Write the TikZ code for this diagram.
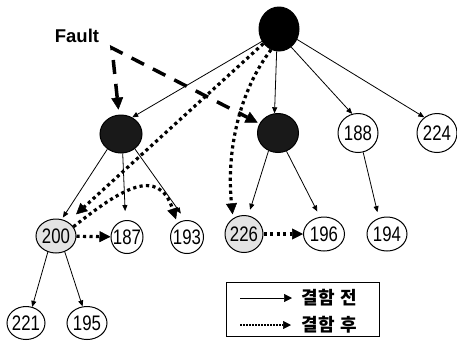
\documentclass[tikz,border=0pt]{standalone}
\usepackage{fontspec}
\setmainfont{Liberation Sans}
\newfontfamily\numf[FakeStretch=0.8]{Liberation Sans}
\newfontfamily\krf[LetterSpace=6]{Noto Sans CJK KR}
\usetikzlibrary{shapes.geometric,arrows.meta}
\begin{document}
\begin{tikzpicture}[x=1pt,y=-1pt,
  nd/.style={ellipse,draw,line width=1pt,inner sep=-6pt,font=\numf\fontsize{21}{21}\selectfont},
  sz/.style n args={2}{minimum width=#1pt,minimum height=#2pt},
  arr/.style={line width=0.8pt,-{Triangle[length=6pt,width=5pt]}},
  dotarr/.style={line width=3.2pt,dash pattern=on 3.2pt off 3.3pt,-{Triangle[length=11pt,width=11pt,line width=0.5pt]}},
  faultarr/.style={line width=3.5pt,dash pattern=on 14pt off 10pt,
    {Triangle[length=12pt,width=12pt,line width=0.5pt]}-{Triangle[length=12pt,width=12pt,line width=0.5pt]}},
  legarr/.style={line width=1pt,-{Triangle[length=8pt,width=8pt,line width=0.5pt]}},
  legdot/.style={line width=2pt,dash pattern=on 1.5pt off 1.5pt,-{Triangle[length=8pt,width=8pt,line width=0.5pt]}},
  kr/.style={anchor=west,inner sep=0pt,font=\krf\bfseries\fontsize{18}{18}\selectfont}]
\useasboundingbox (0,0) rectangle (457,341);

% nodes
\node[nd,fill=black,sz={40}{44}] (root) at (279,29) {};
\node[nd,fill=black!90,sz={42}{38}] (A) at (121,134) {};
\node[nd,fill=black!90,sz={41}{39}] (B) at (278,133) {};
\node[nd,sz={40}{39}] (n188) at (358,133) {188};
\node[nd,sz={40}{39}] (n224) at (437,133) {224};
\node[nd,fill=gray!22,sz={40}{34}] (n200) at (56,236) {200};
\node[nd,sz={32}{33}] (n187) at (127,237) {187};
\node[nd,sz={33}{33}] (n193) at (187,237) {193};
\node[nd,fill=gray!22,sz={38}{37}] (n226) at (244,234) {226};
\node[nd,sz={41}{34}] (n196) at (324,234) {196};
\node[nd,sz={40}{34}] (n194) at (387,234) {194};
\node[nd,sz={38}{33}] (n221) at (26,323) {221};
\node[nd,sz={40}{33}] (n195) at (87,323) {195};

\node[font=\bfseries\fontsize{18.5}{18.5}\selectfont,inner sep=0pt] (flt) at (77,36) {Fault};
\coordinate (fc) at (112,48);

% solid arrows (before fault)
\draw[arr] (root.216) -- (A.56);
\draw[arr] (root.264) -- (B.100);
\draw[arr] (root.304) -- (n188.107);
\draw[arr] (root.330) -- (n224.129);
\draw[arr,shorten >=2pt] (A.228) -- (n200.71);
\draw[arr,shorten >=9pt] (A.275) -- (n187.95);
\draw[arr,shorten >=8pt] (A.313) -- (n193.95);
\draw[arr,shorten >=6pt] (B.242) -- (n226.77);
\draw[arr,shorten >=6pt] (B.295) -- (n196.103);
\draw[arr,shorten >=6pt] (n188.285) -- (n194.117);
\draw[arr] (n200.243) -- (n221.69);
\draw[arr] (n200.299) -- (n195.105);

% dotted arrows (after fault)
\draw[dotarr,shorten >=11pt] (root.223) -- (n200.50);
\draw[dotarr,shorten >=4pt] (root.249) .. controls (240,90) and (226,150) .. (n226.125);
\draw[dotarr] (n200) -- (n187);
\draw[dotarr] (n226) -- (n196);
\draw[dotarr,shorten >=4pt] (n200.28) .. controls (120,190) and (158,165) .. (n193.125);

% fault arrow
\draw[faultarr,shorten <=5pt,shorten >=2pt] (A) -- (fc) -- (B);

% legend
\node[draw,line width=1pt,minimum width=153pt,minimum height=54pt,inner sep=0pt] (leg) at (302.5,309) {};
\coordinate (la1) at (240,298);
\coordinate (la2) at (292,298);
\coordinate (lb1) at (240,325);
\coordinate (lb2) at (291,325);
\draw[legarr] (la1) -- (la2);
\draw[legdot] (lb1) -- (lb2);
\node[kr] (t1) at (301,298) {결함 전};
\node[kr] (t2) at (301,325) {결함 후};
\end{tikzpicture}
\end{document}
